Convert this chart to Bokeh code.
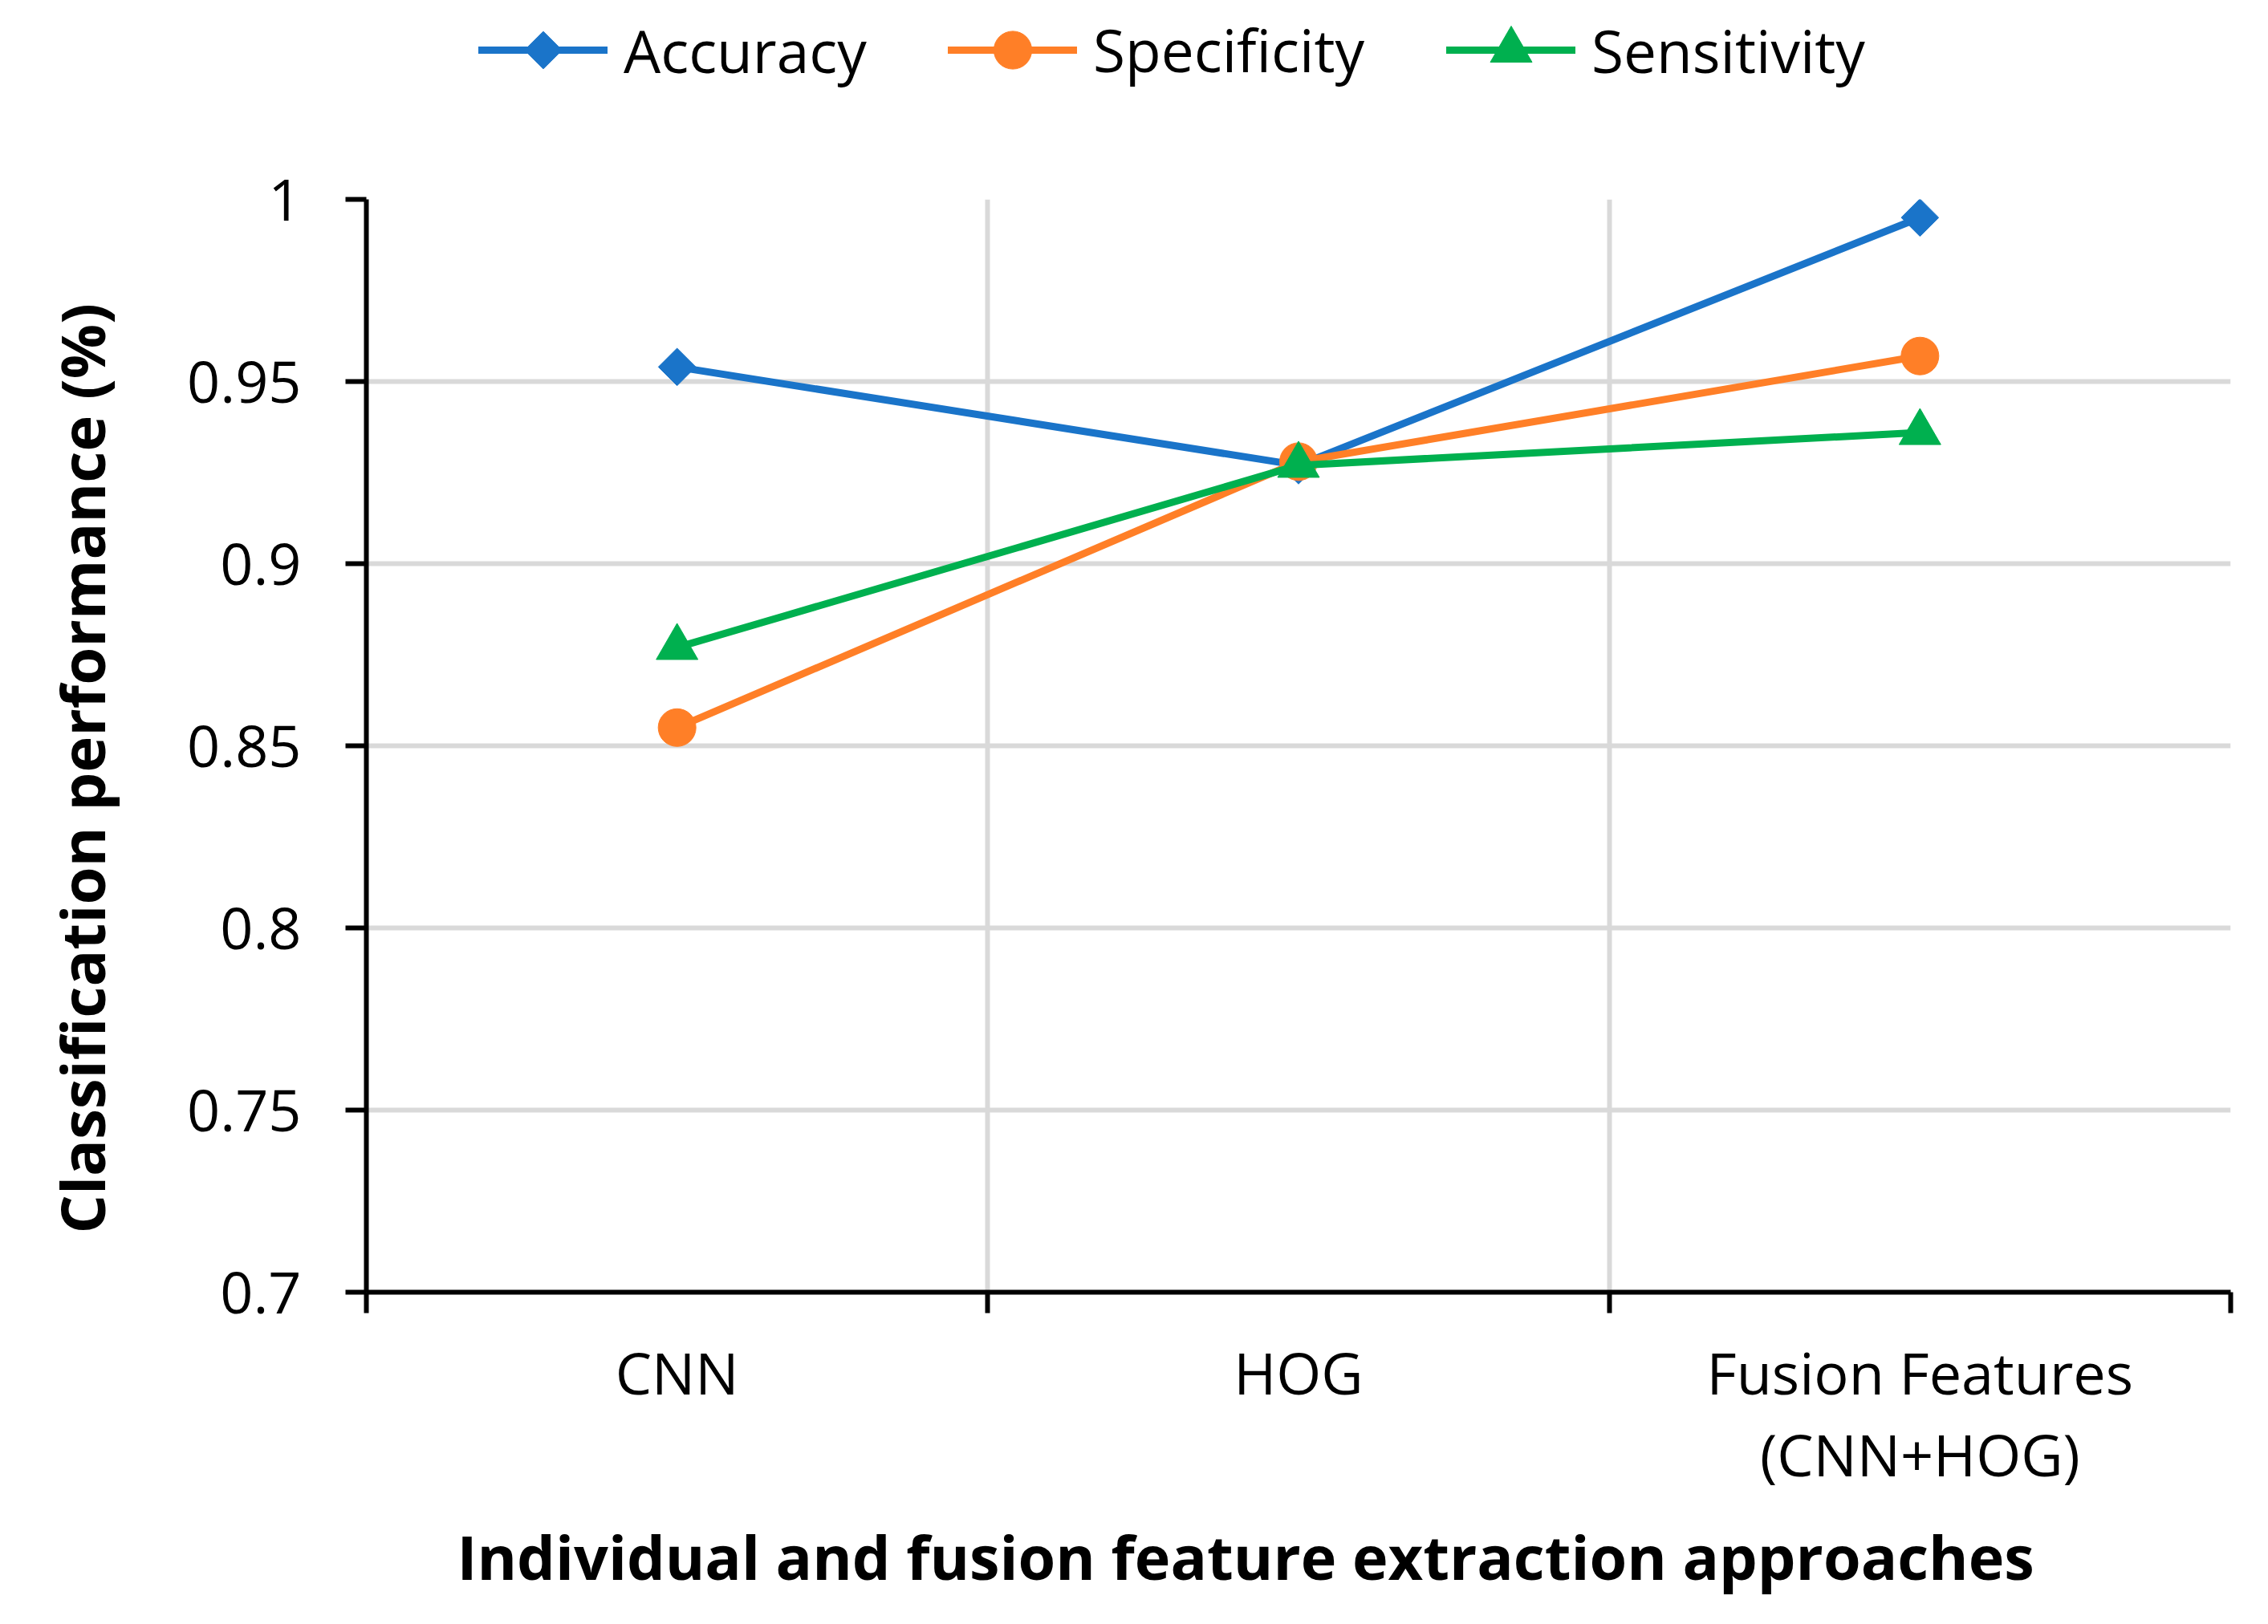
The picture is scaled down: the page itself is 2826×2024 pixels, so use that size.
import numpy as np
from bokeh.plotting import figure
from bokeh.layouts import column
from bokeh.models import FixedTicker, LinearAxis, Range1d, Legend, LegendItem, Title
from bokeh.embed import file_html
from bokeh.resources import INLINE

# ---------------- data ----------------
categories = ["CNN", "HOG", "Fusion Features\n(CNN+HOG)"]
series_names = ["Accuracy", "Specificity", "Sensitivity"]
accuracy = [0.954, 0.927, 0.995]
specificity = [0.855, 0.928, 0.957]
sensitivity = [0.877, 0.927, 0.936]
y_ticks = [0.7, 0.75, 0.8, 0.85, 0.9, 0.95, 1.0]
y_tick_labels = ["0.7", "0.75", "0.8", "0.85", "0.9", "0.95", "1"]
x_title = "Individual and fusion feature extraction approaches"
y_title = "Classification performance (%)"

# ---------------- style ----------------
FONT = "Open Sans"
BLUE = "#1A74C9"
ORANGE = "#FF7F27"
GREEN = "#00B04F"
GRID = "#D9D9D9"
LW = 9
SIZES = {"circle": 47, "triangle": 52, "square": 33}

x_pos = [i + 0.5 for i in range(len(categories))]
boundaries = list(range(len(categories) + 1))

LEG_H = 140
FRAME_W, FRAME_H = 2323, 1362
LEFT, TOP = 456, 248
TOTAL_W = 2810
RIGHT = TOTAL_W - LEFT - FRAME_W

p = figure(frame_width=FRAME_W, frame_height=FRAME_H,
           x_range=Range1d(0, len(categories)), y_range=Range1d(0.7, 1.0),
           output_backend="svg", toolbar_location=None,
           min_border_left=LEFT, min_border_right=RIGHT,
           min_border_top=TOP - LEG_H, min_border_bottom=10)
p.outline_line_color = None
p.background_fill_color = "white"
p.border_fill_color = "white"

# x axis with boundary ticks (no labels)
xa = p.xaxis[0]
xa.ticker = FixedTicker(ticks=boundaries, minor_ticks=[])
xa.major_label_overrides = {b: "" for b in boundaries}
xa.major_label_text_font_size = "1px"
xa.major_label_standoff = 0
xa.axis_line_color = "black"
xa.axis_line_width = 6
xa.major_tick_line_color = "black"
xa.major_tick_line_width = 6
xa.major_tick_out = 26
xa.major_tick_in = 0
xa.minor_tick_line_color = None

# y axis
ya = p.yaxis[0]
ya.ticker = FixedTicker(ticks=y_ticks, minor_ticks=[])
ya.major_label_overrides = dict(zip(y_ticks, y_tick_labels))
ya.major_label_text_font = FONT
ya.major_label_text_font_size = "72px"
ya.major_label_text_color = "black"
ya.major_label_standoff = 55
ya.axis_line_color = "black"
ya.axis_line_width = 6
ya.major_tick_line_color = "black"
ya.major_tick_line_width = 6
ya.major_tick_out = 26
ya.major_tick_in = 0
ya.minor_tick_line_color = None
# tiny invisible spacer label so the title sits further out
ya.axis_label = " "
ya.axis_label_text_font_size = "1px"
ya.axis_label_standoff = 25

# y title (shifted along the axis like the original)
yt = Title(text=y_title, align="left", offset=73, vertical_align="middle",
           text_font=FONT, text_font_size="76px", text_font_style="bold",
           text_color="black", standoff=94)
p.add_layout(yt, "left")

# category label axis (no line, no ticks)
lab_axis = LinearAxis(ticker=FixedTicker(ticks=x_pos, minor_ticks=[]))
lab_axis.major_label_overrides = dict(zip(x_pos, categories))
lab_axis.major_label_text_font = FONT
lab_axis.major_label_text_font_size = "72px"
lab_axis.major_label_text_line_height = 1.05
lab_axis.major_label_text_color = "black"
lab_axis.major_label_standoff = 24
lab_axis.axis_line_color = None
lab_axis.major_tick_line_color = None
lab_axis.major_tick_out = 0
lab_axis.major_tick_in = 0
lab_axis.minor_tick_line_color = None
p.add_layout(lab_axis, "below")

# x title
xt = Title(text=x_title, align="left", offset=113,
           text_font=FONT, text_font_size="75.5px", text_font_style="bold",
           text_color="black", standoff=42)
p.add_layout(xt, "below")

# grids
p.xgrid.grid_line_color = GRID
p.xgrid.grid_line_width = 6
p.ygrid.grid_line_color = GRID
p.ygrid.grid_line_width = 6

# series (Excel order: each series' line then its markers)
series = [
    (accuracy, BLUE, "square", np.pi / 4),
    (specificity, ORANGE, "circle", 0.0),
    (sensitivity, GREEN, "triangle", 0.0),
]
for vals, col, mk, ang in series:
    p.line(x_pos, vals, line_color=col, line_width=LW, line_cap="round", line_join="round")
    p.scatter(x_pos, vals, marker=mk, angle=ang, size=SIZES[mk],
              fill_color=col, line_color=col, line_width=1)

# ---------------- legend strip ----------------
# same horizontal structure as the main plot so the frames line up;
# its x range is in page pixels
lf = figure(frame_width=FRAME_W, frame_height=LEG_H,
            x_range=Range1d(LEFT, LEFT + FRAME_W), y_range=Range1d(0, LEG_H),
            output_backend="svg", toolbar_location=None,
            x_axis_location=None, y_axis_location=None,
            min_border_left=LEFT, min_border_right=RIGHT, min_border_top=0, min_border_bottom=0)
lf.outline_line_color = None
lf.xgrid.visible = False
lf.ygrid.visible = False
lf.background_fill_color = "white"
lf.border_fill_color = "white"

GLYPH_W, GLYPH_H = 161, 118
leg_x = [596, 1181, 1802]   # page x of each legend glyph box
cy = LEG_H - 62
for (vals, col, mk, ang), name, x0 in zip(series, series_names, leg_x):
    rl = lf.line([-50, -40], [-50, -50], line_color=col, line_width=LW, line_cap="round")
    rends = [rl]
    if ang == 0.0:
        rm = lf.scatter([-50], [-50], marker=mk, size=SIZES[mk],
                        fill_color=col, line_color=col, line_width=1)
        rends.append(rm)
    else:
        # rotated swatch drawn at the centre of the legend glyph box
        lf.scatter([x0 + GLYPH_W / 2], [cy], marker=mk, angle=ang, size=SIZES[mk],
                   fill_color=col, line_color=col, line_width=1, level="overlay")
    gh = SIZES[mk] / 0.4 if ang == 0.0 else GLYPH_H
    lg = Legend(items=[LegendItem(label=name, renderers=rends)],
                location=(x0 - LEFT, cy - gh / 2),
                orientation="horizontal",
                glyph_width=GLYPH_W, glyph_height=int(round(gh)), label_height=int(round(gh)),
                label_standoff=20, padding=0, margin=0, spacing=0,
                label_text_font=FONT, label_text_font_size="73px",
                label_text_color="black",
                border_line_color=None, background_fill_alpha=0)
    lf.add_layout(lg, "center")

layout = column(lf, p, spacing=0)
open("out.html", "w").write(file_html(layout, INLINE))
